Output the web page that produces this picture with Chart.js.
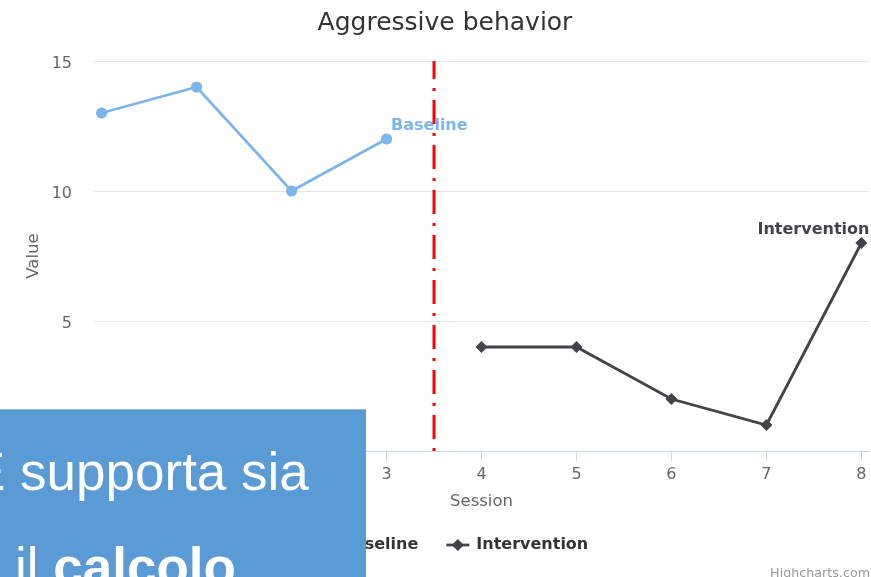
<!DOCTYPE html>
<html><head><meta charset="utf-8">
<script src="https://cdn.jsdelivr.net/npm/chart.js@4/dist/chart.umd.min.js"></script>
<style>
html,body{margin:0;padding:0;background:#fff;overflow:hidden;}
#wrap{position:relative;width:871px;height:577px;}
canvas{position:absolute;left:0;top:0;}
#overlay{position:absolute;left:0;top:409px;width:366px;height:168px;background:#5b9bd5;overflow:hidden;border-top:1px solid #8fbbe3;box-sizing:border-box;}
#overlay span{position:absolute;white-space:nowrap;color:#fff;font-family:"Liberation Sans",Arial,sans-serif;font-size:53px;line-height:53px;}
</style></head>
<body><div id="wrap"><canvas id="c" width="871" height="577"></canvas>
<div id="overlay"><span style="left:-30px;top:35px">È supporta sia</span><span style="left:15px;top:130px">il <b>calcolo</b></span></div></div>
<script>
const chartTitle = 'Aggressive behavior';
const xAxisTitle = 'Session';
const yAxisTitle = 'Value';
const sessionTicks = [0,1,2,3,4,5,6,7,8];
const valueTicks = [0,5,10,15];
const seriesNames = ['Baseline','Intervention'];
const baselineSessions = [0,1,2,3];
const baselineValues = [13,14,10,12];
const interventionSessions = [4,5,6,7,8];
const interventionValues = [4,4,2,1,8];
const phaseChangeSession = 3.5;
const creditText = 'Highcharts.com';

const colors = ['#7cb5ec','#434348'];
const markerStyles = ['circle','rectRot'];
const FONT = '"DejaVu Sans", sans-serif';

const toPoints = (xs, ys) => xs.map((x,i)=>({x, y: ys[i]}));

const seriesLabelPlugin = {
  id:'seriesLabels',
  beforeDatasetsDraw(chart){
    const ctx = chart.ctx;
    ctx.save();
    ctx.font = 'bold 16px ' + FONT;
    ctx.textBaseline = 'middle';
    const m0 = chart.getDatasetMeta(0).data, p0 = m0[m0.length-1];
    ctx.fillStyle = colors[0]; ctx.textAlign = 'left';
    ctx.fillText(seriesNames[0], p0.x + 4.5, p0.y - 13);
    const m1 = chart.getDatasetMeta(1).data, p1 = m1[m1.length-1];
    ctx.fillStyle = colors[1]; ctx.textAlign = 'right';
    ctx.fillText(seriesNames[1], p1.x + 8, p1.y - 13);
    ctx.restore();
  }
};

function drawMarker(ctx, style, x, y, r){
  ctx.beginPath();
  if(style==='circle'){ ctx.arc(x,y,r,0,Math.PI*2); }
  else { ctx.moveTo(x-r,y); ctx.lineTo(x,y-r); ctx.lineTo(x+r,y); ctx.lineTo(x,y+r); ctx.closePath(); }
  ctx.fill();
}

const legendPlugin = {
  id:'customLegend',
  afterDraw(chart){
    const ctx = chart.ctx;
    ctx.save();
    ctx.font = 'bold 16px ' + FONT;
    ctx.textBaseline = 'middle';
    ctx.textAlign = 'left';
    const cx = 450, cy = 545, symW = 23, symPad = 7, gap = 28;
    const ws = seriesNames.map(n=>ctx.measureText(n).width);
    const total = ws.reduce((a,w)=>a+symW+symPad+w,0) + gap*(ws.length-1);
    let x = cx - total/2;
    seriesNames.forEach((n,i)=>{
      ctx.strokeStyle = colors[i]; ctx.fillStyle = colors[i]; ctx.lineWidth = 2.8;
      ctx.beginPath(); ctx.moveTo(x, cy); ctx.lineTo(x+symW, cy); ctx.stroke();
      drawMarker(ctx, markerStyles[i], x+symW/2, cy, markerStyles[i]==='circle'?5.6:6);
      ctx.fillStyle = '#333333';
      ctx.fillText(n, x+symW+symPad, cy);
      x += symW+symPad+ws[i]+gap;
    });
    ctx.font = '12.7px ' + FONT;
    ctx.fillStyle = '#999999';
    ctx.textAlign = 'right';
    ctx.textBaseline = 'alphabetic';
    ctx.fillText(creditText, 870, 577);
    ctx.restore();
  }
};

Chart.defaults.font.family = FONT;

new Chart(document.getElementById('c'), {
  type:'line',
  data:{
    datasets:[
      { label: seriesNames[0], data: toPoints(baselineSessions, baselineValues),
        borderColor: colors[0], backgroundColor: colors[0], borderWidth: 2.8,
        pointStyle: markerStyles[0], pointRadius: 5.6, pointBorderWidth: 0, pointHoverRadius: 5.6, tension: 0 },
      { label: seriesNames[1], data: toPoints(interventionSessions, interventionValues),
        borderColor: colors[1], backgroundColor: colors[1], borderWidth: 2.8,
        pointStyle: markerStyles[1], pointRadius: 6, pointBorderWidth: 0, pointHoverRadius: 6, tension: 0 },
      { label: 'phase', data: [{x: phaseChangeSession, y: valueTicks[0]}, {x: phaseChangeSession, y: valueTicks[valueTicks.length-1]}],
        borderColor: '#ff0000', borderWidth: 3, borderDash: [24,9,3,9], borderDashOffset: 33,
        pointRadius: 0, pointHoverRadius: 0, fill: false }
    ]
  },
  options:{
    responsive:false, animation:false, devicePixelRatio:1,
    layout:{ autoPadding:false, padding:{ left:21, right:2, top:0, bottom:65.5 } },
    plugins:{
      legend:{ display:false },
      tooltip:{ enabled:false },
      title:{ display:true, text: chartTitle, color:'#333333',
        font:{ size:25, weight:'normal', family: FONT }, padding:{ top:8, bottom:23 } }
    },
    scales:{
      x:{ type:'linear', min: sessionTicks[0]-0.08, max: sessionTicks[sessionTicks.length-1]+0.08,
        afterBuildTicks: s => { s.ticks = sessionTicks.map(v=>({value:v})); },
        afterFit: s => { s.height = 60.5; s.paddingLeft = 0; s.paddingRight = 0; },
        grid:{ drawOnChartArea:false, drawTicks:true, tickLength:10, tickColor:'#ccd6eb', color:'#ccd6eb' },
        border:{ display:true, color:'#ccd6eb', width:1 },
        ticks:{ color:'#666666', font:{ size:16 }, padding:4, maxRotation:0, autoSkip:false },
        title:{ display:true, text:xAxisTitle, color:'#666666', font:{ size:16.5 }, padding:{top:0,bottom:0} }
      },
      y:{ type:'linear', min: valueTicks[0], max: valueTicks[valueTicks.length-1],
        afterBuildTicks: s => { s.ticks = valueTicks.map(v=>({value:v})); },
        afterFit: s => { s.width = 73; s.paddingTop = 0; s.paddingBottom = 0; },
        grid:{ color:'#e6e6e6', drawTicks:false, lineWidth:1 },
        border:{ display:false },
        ticks:{ color:'#666666', font:{ size:16 }, padding:22, labelOffset:2.5 },
        title:{ display:true, text:yAxisTitle, color:'#666666', font:{ size:16.5 }, padding:{top:2.4,bottom:0} }
      }
    }
  },
  plugins:[seriesLabelPlugin, legendPlugin]
});
</script>
</body></html>
